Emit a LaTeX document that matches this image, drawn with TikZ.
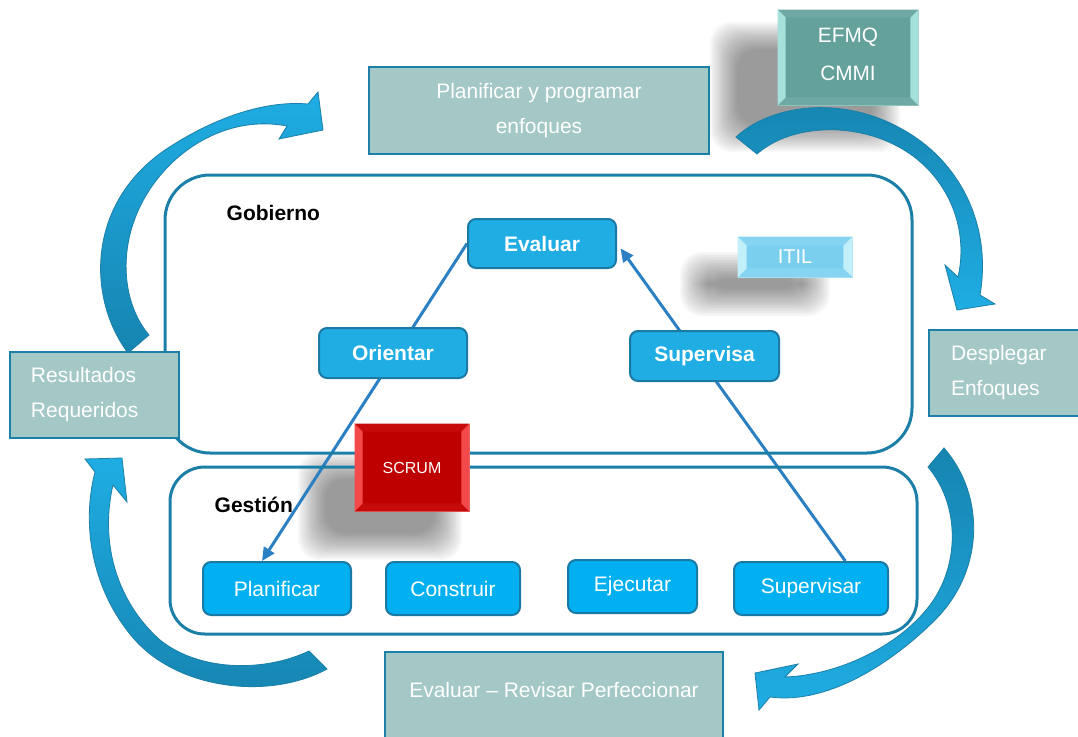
\documentclass[tikz,border=0pt]{standalone}
\usepackage{fontspec}
\setmainfont{Liberation Sans}
\usetikzlibrary{calc,arrows.meta}

\definecolor{tealfill}{HTML}{A3C8C5}
\definecolor{frameblue}{HTML}{1B7FA7}
\definecolor{nodeborder}{HTML}{1A7AA3}
\definecolor{govblue}{HTML}{1FADE3}
\definecolor{mgmtblue}{HTML}{00B0F0}
\definecolor{linkblue}{HTML}{2A80C2}
\definecolor{arrowlt}{HTML}{1FADE3}
\definecolor{arrowdk}{HTML}{1684B0}
\definecolor{efmqfill}{HTML}{64A19B}
\definecolor{efmqside}{HTML}{A6E0DA}
\definecolor{efmqtop}{HTML}{6EA9A3}
\definecolor{efmqedge}{HTML}{A0D0CB}
\definecolor{itilfill}{HTML}{7ACFEF}
\definecolor{itilside}{HTML}{C2F0FA}
\definecolor{itiltop}{HTML}{86D4F1}
\definecolor{itiledge}{HTML}{B5E5F5}
\definecolor{scrumfill}{HTML}{BF0000}
\definecolor{scrumside}{HTML}{F24A4A}
\definecolor{scrumtop}{HTML}{C60A0A}
\definecolor{scrumedge}{HTML}{E07070}

\pgfdeclarelayer{back}
\pgfdeclarelayer{mid}
\pgfsetlayers{back,mid,main}

% bevelled edges of a button-like node: name, bevel size, side colour, top colour
\newcommand\bevelbox[4]{%
  \fill[#4] (#1.north west) -- (#1.north east) -- ++(-#2,#2) -- ($(#1.north west)+(#2,#2)$) -- cycle;
  \fill[#4] (#1.south west) -- (#1.south east) -- ++(-#2,-#2) -- ($(#1.south west)+(#2,-#2)$) -- cycle;
  \fill[#3] (#1.north west) -- ++(#2,#2) -- ($(#1.south west)+(#2,-#2)$) -- (#1.south west) -- cycle;
  \fill[#3] (#1.north east) -- ++(-#2,#2) -- ($(#1.south east)+(-#2,-#2)$) -- (#1.south east) -- cycle;
}
% soft drop shadow built from stacked translucent rounded rectangles
\newcommand\softshade[4]{%
  \foreach \k in {0,...,17}{%
    \fill[black,opacity=0.027,rounded corners=16pt]
      ({#1+1.6*\k},{#2+1.6*\k}) rectangle ({#3-1.6*\k},{#4-1.6*\k});}%
}

\begin{document}
\begin{tikzpicture}[x=0.75pt,y=-0.75pt,
  sz/.style 2 args={minimum width=#1*0.75pt,minimum height=#2*0.75pt},
  txt/.style={font=\fontsize{15.75}{26.25}\selectfont,text=white},
  tealbox/.style={draw=frameblue,line width=1.5pt,fill=tealfill,inner sep=0pt,
    txt,align=center},
  govnode/.style={draw=nodeborder,line width=1.5pt,fill=govblue,rounded corners=6pt,
    inner sep=0pt,text=white,font=\bfseries\fontsize{15.75}{19}\selectfont},
  mgmtnode/.style={govnode,fill=mgmtblue,font=\fontsize{15.75}{19}\selectfont},
  panel/.style={draw=frameblue,line width=2.25pt,inner sep=0pt},
  flowline/.style={draw=linkblue,line width=2.25pt,-{Triangle[length=10pt,width=9pt]}},
  bigarrow/.style={draw=frameblue,line width=0.6pt},
  bevelnode/.style={draw,line width=0.6pt,inner sep=0pt,align=center,text=white},
  caption/.style={anchor=west,text=black,font=\bfseries\fontsize{15.75}{19}\selectfont}]

\useasboundingbox (0,0) rectangle (1078,736);

% ---------- frames ----------
\node[panel,rounded corners=33.75pt,sz={747}{278}] (gobframe) at (538.5,314) {};
\node[panel,rounded corners=26pt,sz={747}{167}] (gesframe) at (543.5,550.5) {};
\node[caption] (gobiernolbl) at (222,213) {Gobierno};
\node[caption] (gestionlbl) at (210,505) {Gestión};

% ---------- process boxes ----------
\node[tealbox,sz={340}{87}] (planprog) at (539,110.5) {Planificar y programar\\enfoques};
\node[tealbox,sz={169}{86},align=left,text width=95.25pt,inner xsep=15.75pt]
  (resultados) at (94.5,395) {Resultados\\Requeridos};
\node[tealbox,sz={156}{86},align=left,text width=84pt,inner xsep=16.5pt]
  (desplegar) at (1007,373) {Desplegar\\Enfoques};
\node[tealbox,sz={338}{93}] (evalrev) at (554,698.5) {};
\node[txt] (evalrevtxt) at (554,690) {Evaluar – Revisar Perfeccionar};

% ---------- governance ----------
\node[govnode,sz={148}{49}] (evaluar) at (542,243.5) {Evaluar};
\node[govnode,sz={148}{50}] (orientar) at (393,353) {Orientar};
\node[govnode,sz={149}{50}] (supervisa) at (704.5,356) {Supervisa};

% ---------- management ----------
\node[mgmtnode,sz={148}{53}] (planificar) at (277,588.5) {Planificar};
\node[mgmtnode,sz={134}{53}] (construir) at (453,588.5) {Construir};
\node[mgmtnode,sz={129}{53}] (ejecutar) at (632.5,586.5) {Ejecutar};
\node[mgmtnode,sz={154}{53}] (supervisar) at (811,588.5) {Supervisar};

% ---------- frameworks ----------
\node[bevelnode,fill=efmqfill,draw=efmqedge,sz={140}{95}] (efmq) at (848,57.5) {};
\bevelbox{efmq}{8}{efmqside}{efmqtop}
\node[txt,align=center,font=\fontsize{15.6}{28.5}\selectfont] (efmqtxt) at (848,54) {EFMQ\\CMMI};

\node[bevelnode,fill=itilfill,draw=itiledge,sz={114}{40}] (itil) at (795,257) {};
\bevelbox{itil}{9}{itilside}{itiltop}
\node[text=white,font=\fontsize{15}{18}\selectfont] (itiltxt) at (itil) {ITIL};

\node[bevelnode,fill=scrumfill,draw=scrumedge,sz={114}{87}] (scrum) at (412,467.5) {};
\bevelbox{scrum}{8}{scrumside}{scrumtop}
\node[text=white,font=\fontsize{12}{14}\selectfont] (scrumtxt) at (scrum) {SCRUM};

% ---------- connectors ----------
\begin{pgfonlayer}{mid}
\draw[flowline] (evaluar.west) -- ($(planificar.north west)!0.4!(planificar.north east)$);
\draw[flowline,shorten >=4.5pt] ($(supervisar.north west)!0.72!(supervisar.north east)$) -- (evaluar.east);
\end{pgfonlayer}

% ---------- shadows and cycle arrows ----------
\begin{pgfonlayer}{back}
\softshade{710}{22}{900}{152}
\softshade{680}{252}{830}{316}
\softshade{298}{452}{462}{560}

% upper left: results feed planning
\path[bigarrow,top color=arrowlt,bottom color=arrowdk]
  (128,353) .. controls (88,300) and (85,205) .. (165,150)
  .. controls (210,120) and (262,100) .. (308,104)
  -- (318,92) -- (323,130) -- (279,139) -- (287,126)
  .. controls (245,118) and (205,133) .. (175,160)
  .. controls (115,215) and (115,295) .. (149,335) -- cycle;

% upper right: planning to deployment
\path[bigarrow,top color=arrowdk,bottom color=arrowlt]
  (736,137) .. controls (770,105) and (840,95) .. (900,128)
  .. controls (960,160) and (992,225) .. (980,295)
  -- (995,304) -- (957,310) -- (945,265) -- (958,277)
  .. controls (970,225) and (945,170) .. (895,145)
  .. controls (850,122) and (790,125) .. (757,154) -- cycle;

% lower right: deployment to review
\path[bigarrow,top color=arrowdk,bottom color=arrowlt]
  (944,448) .. controls (985,495) and (985,570) .. (935,620)
  .. controls (895,660) and (830,705) .. (770,697)
  -- (759,710) -- (755,673) -- (798,664) -- (785,677)
  .. controls (840,675) and (900,645) .. (930,605)
  .. controls (960,565) and (960,505) .. (928,467) -- cycle;

% lower left: review to results
\path[bigarrow,top color=arrowlt,bottom color=arrowdk]
  (327,669) .. controls (270,700) and (180,690) .. (135,640)
  .. controls (95,595) and (80,530) .. (95,472)
  -- (85,459) -- (122,458) -- (127,502) -- (113,485)
  .. controls (100,540) and (115,600) .. (160,640)
  .. controls (200,672) and (265,672) .. (309,651) -- cycle;
\end{pgfonlayer}

\end{tikzpicture}
\end{document}
